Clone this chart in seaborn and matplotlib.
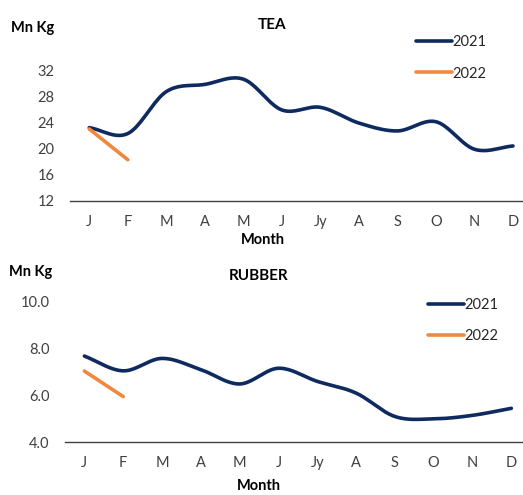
import numpy as np
import pandas as pd
import matplotlib
matplotlib.use("Agg")
import matplotlib.pyplot as plt
import seaborn as sns

MONTHS = ["J", "F", "M", "A", "M", "J", "Jy", "A", "S", "O", "N", "D"]

TEA_2021 = [23.2, 22.3, 28.7, 29.8, 30.6, 25.9, 26.3, 23.9, 22.7, 24.1, 19.9, 20.4]
TEA_2022 = [23.0, 18.3]

RUBBER_2021 = [7.68, 7.05, 7.58, 7.10, 6.49, 7.16, 6.60, 6.10, 5.10, 5.00, 5.15, 5.45]
RUBBER_2022 = [7.04, 5.95]

NAVY = "#0E2A5F"
ORANGE = "#F0883E"
GREY = "#404040"


def smooth(values, steps=20):
    # Catmull-Rom spline, like Excel's "smoothed line"
    y = np.asarray(values, dtype=float)
    x = np.arange(len(y), dtype=float)
    if len(y) < 3:
        return x, y
    px = np.concatenate([[2 * x[0] - x[1]], x, [2 * x[-1] - x[-2]]])
    py = np.concatenate([[2 * y[0] - y[1]], y, [2 * y[-1] - y[-2]]])
    xs, ys = [], []
    t = np.linspace(0, 1, steps, endpoint=False)
    for i in range(1, len(px) - 2):
        for p, out in ((px, xs), (py, ys)):
            p0, p1, p2, p3 = p[i - 1], p[i], p[i + 1], p[i + 2]
            out.extend(0.5 * (2 * p1 + (-p0 + p2) * t
                              + (2 * p0 - 5 * p1 + 4 * p2 - p3) * t ** 2
                              + (-p0 + 3 * p1 - 3 * p2 + p3) * t ** 3))
    xs.append(x[-1])
    ys.append(y[-1])
    return np.array(xs), np.array(ys)


def build_frame(series):
    rows = []
    for year, vals in series.items():
        xs, ys = smooth(vals)
        rows.append(pd.DataFrame({"x": xs, "y": ys, "year": year}))
    return pd.concat(rows, ignore_index=True)


sns.set_theme(style="white")
plt.rcParams["font.family"] = ["Lato", "DejaVu Sans"]

fig = plt.figure(figsize=(5.23, 4.95), dpi=100)


def panel(rect, series, ylim, yticks, yfmt, title, title_xy, unit_xy, month_xy, xright, leg_xy):
    ax = fig.add_axes(rect)
    df = build_frame(series)
    sns.lineplot(data=df, x="x", y="y", hue="year", palette={"2021": NAVY, "2022": ORANGE},
                 linewidth=2.6, sort=False, estimator=None, ax=ax)
    ax.set_xlim(-0.5, xright)
    ax.set_ylim(*ylim)
    ax.set_xticks(range(len(MONTHS)))
    ax.set_xticklabels(MONTHS)
    ax.set_yticks(yticks)
    ax.set_yticklabels([yfmt.format(v) for v in yticks])
    ax.tick_params(axis="both", length=0, labelsize=10.5, colors=GREY)
    ax.tick_params(axis="x", pad=10)
    ax.tick_params(axis="y", pad=11)
    for s in ("top", "right", "left"):
        ax.spines[s].set_visible(False)
    ax.spines["bottom"].set_color("#404040")
    ax.spines["bottom"].set_linewidth(1.0)
    ax.set_xlabel("")
    ax.set_ylabel("")
    ax.set_facecolor("none")
    ax.legend(loc="upper left", bbox_to_anchor=leg_xy, bbox_transform=fig.transFigure,
              frameon=False, fontsize=10.5, handlelength=2.5, handletextpad=0.0,
              labelspacing=1.2, borderpad=0, borderaxespad=0)
    fig.text(title_xy[0], title_xy[1], title, ha="center", va="center",
             fontsize=11, fontweight="bold", color="black")
    fig.text(unit_xy[0], unit_xy[1], "Mn Kg", ha="left", va="center",
             fontsize=10.5, fontweight="bold", color="black")
    fig.text(month_xy[0], month_xy[1], "Month", ha="center", va="center",
             fontsize=10.5, fontweight="bold", color="black")
    return ax


panel([70 / 523, 1 - 201 / 495, 453 / 523, 131 / 495],
      {"2021": TEA_2021, "2022": TEA_2022},
      (12, 32), [12, 16, 20, 24, 28, 32], "{:.0f}",
      "TEA", (272 / 523, 1 - 25 / 495), (11 / 523, 1 - 28 / 495),
      (263 / 523, 1 - 240 / 495), 11.26, (416 / 523, 1 - 35 / 495))

panel([65 / 523, 1 - 442.3 / 495, 458 / 523, 140.6 / 495],
      {"2021": RUBBER_2021, "2022": RUBBER_2022},
      (4, 10), [4, 6, 8, 10], "{:.1f}",
      "RUBBER", (259 / 523, 1 - 276 / 495), (9 / 523, 1 - 272 / 495),
      (259 / 523, 1 - 486 / 495), 11.3, (428 / 523, 1 - 298 / 495))

fig.savefig("out.png", dpi=100)
